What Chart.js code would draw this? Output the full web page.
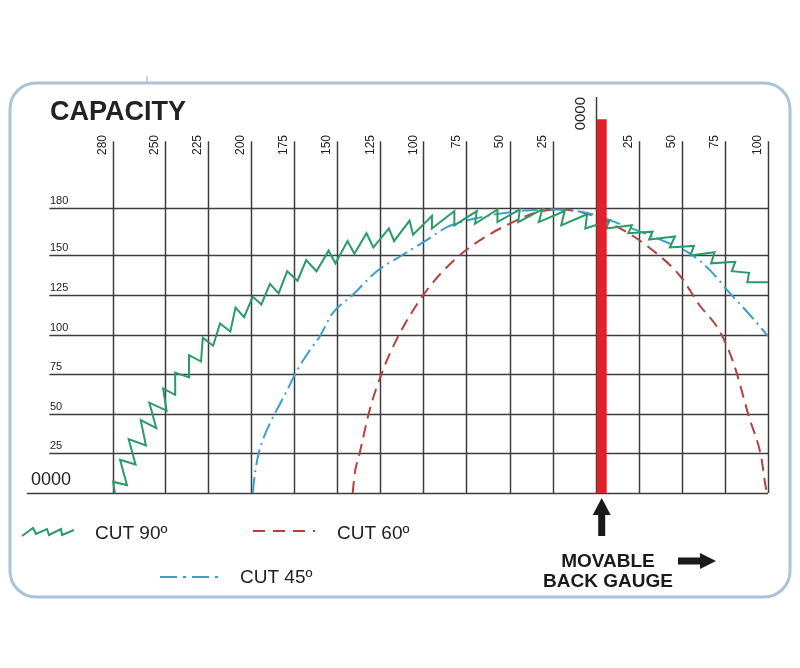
<!DOCTYPE html>
<html>
<head>
<meta charset="utf-8">
<script src="https://cdn.jsdelivr.net/npm/chart.js@4.4.0/dist/chart.umd.min.js"></script>
<style>
    html, body { margin: 0; padding: 0; background: #fff; }
    #wrap { width: 800px; height: 668px; position: relative; }
</style>
</head>
<body>
<div id="wrap"><canvas id="capacityChart"></canvas></div>
<script>
// Grid / tick labels
const xTickValues = [-280, -250, -225, -200, -175, -150, -125, -100, -75, -50, -25, 0, 25, 50, 75, 100];
const xTickLabels = ["280", "250", "225", "200", "175", "150", "125", "100", "75", "50", "25", "0000", "25", "50", "75", "100"];
const yTickValues = [0, 25, 50, 75, 100, 125, 150, 180];
const yTickLabels = ["0000", "25", "50", "75", "100", "125", "150", "180"];

// CUT 90º (zigzag)
const cut90X = [-279, -280, -272, -276, -267, -271, -261, -264, -255, -259, -249, -251, -244, -244, -236, -236,
    -229, -228, -222, -218, -212, -209, -204, -199, -194, -189, -184, -179, -173, -168, -162, -155, -151, -144,
    -140, -133, -129, -120, -117, -108, -106, -95, -95, -82, -82, -69, -70, -57, -57, -44, -45, -31, -33, -18,
    -20, -5, -6, 8, 6, 21, 19, 33, 31, 46, 43, 57, 55, 69, 67, 81, 79, 89, 88, 100];
const cut90Y = [0, 7, 5, 21, 18, 34, 30, 46, 41, 57, 52, 66, 62, 76, 73, 87,
    83, 98, 93, 107, 102, 117, 111, 124, 119, 132, 126, 140, 134, 147, 140, 153, 145, 159,
    151, 164, 155, 167, 159, 172, 163, 175, 167, 178, 169, 178, 170, 179, 171, 179, 171, 179, 171, 178,
    169, 176, 167, 172, 167, 169, 164, 165, 160, 162, 155, 156, 150, 152, 145, 146, 140, 139, 133, 133];

// CUT 45º
const cut45X = [-199, -198, -196, -193, -189, -179, -174, -166, -160, -153, -141, -127, -114, -99, -86, -67, -44, -24, -2, 16, 35, 55, 66, 78, 89, 100];
const cut45Y = [0, 10, 23, 34, 44, 65, 76, 90, 99, 113, 125, 140, 149, 159, 168, 174, 178, 179, 176, 169, 161, 151, 141, 126, 113, 99];

// CUT 60º
const cut60X = [-141, -140, -137, -131, -124, -115, -98, -79, -62, -48, -35, -21, -4, 16, 31, 49, 60, 72, 80, 89, 96, 99, 100];
const cut60Y = [0, 11, 25, 53, 76, 98, 128, 150, 163, 171, 177, 179, 176, 166, 155, 137, 119, 102, 82, 48, 23, 2, 0];

// Back gauge (red bar)
const gaugeX = [3.5, 3.5];
const gaugeY = [0, 236];

const GREEN = "#2a9a66";
const CYAN = "#3a9fc9";
const DARKRED = "#b5403f";
const BAR = "#e3202a";
const GRID = "#3d3d3d";
const TEXT = "#222";

const toPoints = (xs, ys) => xs.map((v, i) => ({ x: v, y: ys[i] }));

// Grid, labels, legend and frame
const decorations = {
    id: "decorations",
    beforeDraw(chart) {
        const ctx = chart.ctx;
        ctx.save();
        ctx.fillStyle = "#fff";
        ctx.fillRect(0, 0, chart.width, chart.height);
        // rounded frame
        const x0 = 10, y0 = 83, w = 780, h = 514, r = 26;
        ctx.strokeStyle = "#a9c3dc";
        ctx.lineWidth = 3;
        ctx.beginPath();
        ctx.moveTo(x0 + r, y0);
        ctx.lineTo(x0 + w - r, y0);
        ctx.arcTo(x0 + w, y0, x0 + w, y0 + r, r);
        ctx.lineTo(x0 + w, y0 + h - r);
        ctx.arcTo(x0 + w, y0 + h, x0 + w - r, y0 + h, r);
        ctx.lineTo(x0 + r, y0 + h);
        ctx.arcTo(x0, y0 + h, x0, y0 + h - r, r);
        ctx.lineTo(x0, y0 + r);
        ctx.arcTo(x0, y0, x0 + r, y0, r);
        ctx.closePath();
        ctx.stroke();
        ctx.strokeStyle = "#aaa";
        ctx.lineWidth = 1;
        ctx.beginPath();
        ctx.moveTo(147, 76);
        ctx.lineTo(147, 82);
        ctx.stroke();
        ctx.restore();
    },
    beforeDatasetsDraw(chart) {
        const { ctx, scales: { x, y } } = chart;
        ctx.save();
        ctx.strokeStyle = GRID;
        ctx.lineWidth = 1.5;
        const right = x.getPixelForValue(100);
        yTickValues.forEach(v => {
            const py = Math.round(y.getPixelForValue(v)) + 0.5;
            const left = x.getPixelForValue(v === 0 ? -330 : -317);
            ctx.beginPath();
            ctx.moveTo(left, py);
            ctx.lineTo(right, py);
            ctx.stroke();
        });
        const bottom = y.getPixelForValue(0);
        xTickValues.forEach(v => {
            const px = Math.round(x.getPixelForValue(v)) + 0.5;
            const top = y.getPixelForValue(v === 0 ? 250 : 222);
            ctx.beginPath();
            ctx.moveTo(px, top);
            ctx.lineTo(px, bottom);
            ctx.stroke();
        });
        ctx.restore();
    },
    afterDraw(chart) {
        const { ctx, scales: { x, y } } = chart;
        ctx.save();
        ctx.fillStyle = TEXT;

        // title
        ctx.font = "bold 27px 'Liberation Sans', Arial, sans-serif";
        ctx.textAlign = "left";
        ctx.textBaseline = "alphabetic";
        ctx.fillText("CAPACITY", 50, 120);

        // top (rotated) tick labels
        xTickValues.forEach((v, i) => {
            const px = x.getPixelForValue(v);
            const isZero = v === 0;
            ctx.save();
            ctx.translate(px - (isZero ? 15 : 10), isZero ? 97 : 135);
            ctx.rotate(-Math.PI / 2);
            ctx.font = (isZero ? "15px" : "12px") + " 'Liberation Sans', Arial, sans-serif";
            ctx.textAlign = "right";
            ctx.textBaseline = "middle";
            ctx.fillText(xTickLabels[i], 0, 0);
            ctx.restore();
        });

        // left tick labels
        yTickValues.forEach((v, i) => {
            const py = y.getPixelForValue(v);
            ctx.textAlign = "left";
            ctx.textBaseline = "alphabetic";
            if (v === 0) {
                ctx.font = "18px 'Liberation Sans', Arial, sans-serif";
                ctx.fillText(yTickLabels[i], 31, py - 8);
            } else {
                ctx.font = "11px 'Liberation Sans', Arial, sans-serif";
                ctx.fillText(yTickLabels[i], 50, py - 4);
            }
        });

        // legend
        ctx.lineWidth = 2;
        ctx.strokeStyle = GREEN;
        ctx.beginPath();
        [[22, 536], [33, 528], [36, 534], [47, 529], [49, 535], [61, 529], [62, 535], [74, 530]]
            .forEach(([a, b], i) => i ? ctx.lineTo(a, b) : ctx.moveTo(a, b));
        ctx.stroke();

        ctx.strokeStyle = DARKRED;
        ctx.setLineDash([12, 8]);
        ctx.beginPath();
        ctx.moveTo(253, 531);
        ctx.lineTo(315, 531);
        ctx.stroke();

        ctx.strokeStyle = CYAN;
        ctx.setLineDash([17, 6, 3, 6]);
        ctx.beginPath();
        ctx.moveTo(160, 577);
        ctx.lineTo(219, 577);
        ctx.stroke();
        ctx.setLineDash([]);

        ctx.font = "19px 'Liberation Sans', Arial, sans-serif";
        ctx.fillText("CUT 90º", 95, 539);
        ctx.fillText("CUT 60º", 337, 539);
        ctx.fillText("CUT 45º", 240, 583);

        // back gauge arrows + text
        ctx.fillStyle = "#1a1a1a";
        const gx = x.getPixelForValue(gaugeX[0]);
        ctx.beginPath();
        ctx.moveTo(gx, 498);
        ctx.lineTo(gx - 9, 515);
        ctx.lineTo(gx + 9, 515);
        ctx.closePath();
        ctx.fill();
        ctx.fillRect(gx - 3.5, 514, 7, 22);

        ctx.fillRect(678, 557.5, 24, 7);
        ctx.beginPath();
        ctx.moveTo(700, 553);
        ctx.lineTo(716, 561);
        ctx.lineTo(700, 569);
        ctx.closePath();
        ctx.fill();

        ctx.font = "bold 19px 'Liberation Sans', Arial, sans-serif";
        ctx.textAlign = "center";
        ctx.fillText("MOVABLE", 608, 567);
        ctx.fillText("BACK GAUGE", 608, 587);
        ctx.restore();
    }
};

const ctx = document.getElementById("capacityChart").getContext("2d");
const chart = new Chart(ctx, {
    type: "scatter",
    data: {
        datasets: [
            {
                label: "Back gauge",
                data: toPoints(gaugeX, gaugeY),
                showLine: true,
                borderColor: BAR,
                borderWidth: 10,
                borderCapStyle: "butt",
                pointRadius: 0
            },
            {
                label: "CUT 90º",
                data: toPoints(cut90X, cut90Y),
                showLine: true,
                borderColor: GREEN,
                borderWidth: 2,
                tension: 0,
                pointRadius: 0
            },
            {
                label: "CUT 45º",
                data: toPoints(cut45X, cut45Y),
                showLine: true,
                borderColor: CYAN,
                borderWidth: 2,
                borderDash: [16, 5, 2, 5],
                cubicInterpolationMode: "monotone",
                pointRadius: 0
            },
            {
                label: "CUT 60º",
                data: toPoints(cut60X, cut60Y),
                showLine: true,
                borderColor: DARKRED,
                borderWidth: 2,
                borderDash: [12, 7],
                cubicInterpolationMode: "monotone",
                pointRadius: 0
            }
        ]
    },
    options: {
        responsive: true,
        maintainAspectRatio: false,
        animation: false,
        layout: { padding: { left: 27, right: 32, top: 97, bottom: 175 } },
        scales: {
            x: { type: "linear", min: -330, max: 100, display: false },
            y: { type: "linear", min: 0, max: 250, display: false }
        },
        plugins: {
            legend: { display: false },
            tooltip: { enabled: false }
        },
        elements: { line: { fill: false } }
    },
    plugins: [decorations]
});
</script>
</body>
</html>
